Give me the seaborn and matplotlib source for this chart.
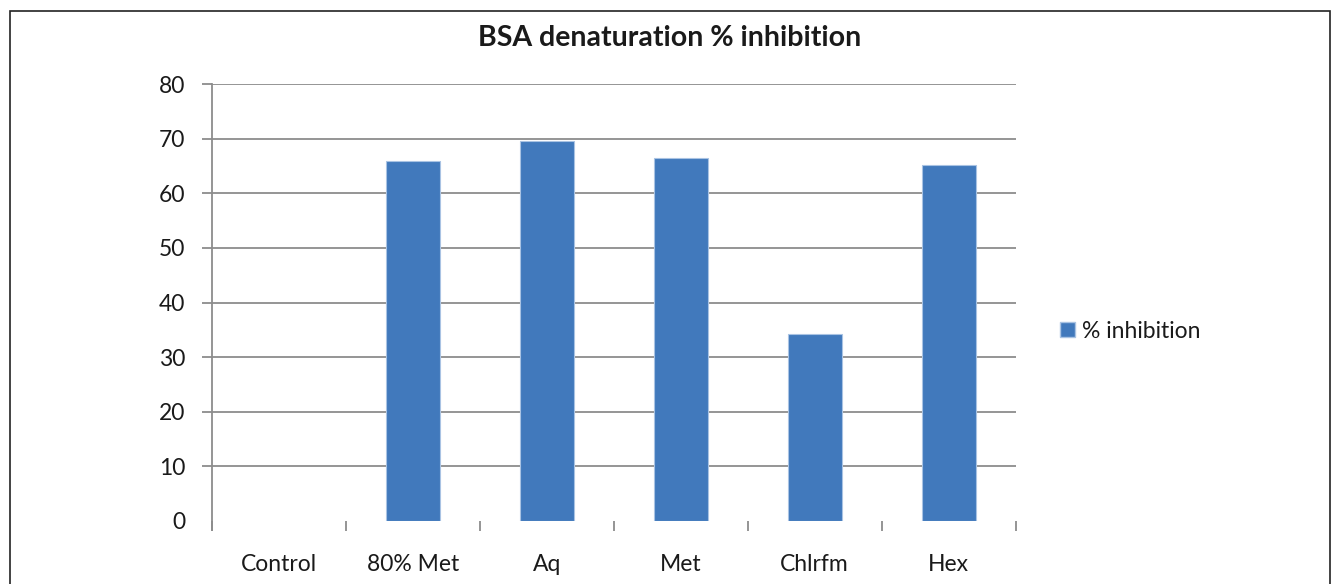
# BSA denaturation % inhibition - bar chart recreated with seaborn.

import matplotlib
matplotlib.use('Agg')
import matplotlib.pyplot as plt
from matplotlib.patches import Rectangle, Patch
from matplotlib.ticker import FixedLocator
import seaborn as sns
import pandas as pd

# Data.
categories = ['Control', '80% Met', 'Aq', 'Met', 'Chlrfm', 'Hex']
inhibition = [0, 65.9, 69.6, 66.5, 34.3, 65.2]
y_ticks = [0, 10, 20, 30, 40, 50, 60, 70, 80]
series_name = '% inhibition'
title = 'BSA denaturation % inhibition'

df = pd.DataFrame({'extract': categories, 'value': inhibition})

sns.set_style('white')
plt.rcParams['font.family'] = ['Lato', 'DejaVu Sans']

bar_color = '#4179bc'
edge_color = '#a9c3e3'
text_color = '#1a1a1a'
grid_color = '#8c8c8c'

figure = plt.figure(figsize=(13.4, 5.84), dpi=100)
axes = figure.add_axes([0.158, 0.108, 0.6, 0.748])

sns.barplot(data=df, x='extract', y='value', color=bar_color, width=0.4,
            saturation=1, edgecolor=edge_color, linewidth=0.8, ax=axes)
# A bar of height zero should leave no trace.
for bar in axes.patches:
    if bar.get_height() == 0:
        bar.set_linewidth(0)

# Axis limits and ticks.
axes.set_xlim(-0.5, len(categories) - 0.5)
axes.set_ylim(0, 80)
# Zero gets a label but no mark and no gridline, so it is a minor tick.
axes.set_yticks(y_ticks[1:])
axes.set_yticks(y_ticks[:1], labels=[str(y_ticks[0])], minor=True)
axes.set_xlabel('')
axes.set_ylabel('')

# Horizontal gridlines.
axes.yaxis.grid(True, which='major', color=grid_color, linewidth=1.3)
axes.set_axisbelow(True)

# Spines: only the left axis line.
for side in ['top', 'right', 'bottom']:
    axes.spines[side].set_visible(False)
axes.spines['left'].set_color(grid_color)
axes.spines['left'].set_linewidth(1.3)
axes.spines['left'].set_bounds(-1.7, 80)

axes.tick_params(axis='y', which='major', direction='out', length=7,
                 width=1.3, color=grid_color, labelsize=16.5,
                 labelcolor=text_color, pad=12, left=True)
axes.tick_params(axis='y', which='minor', length=0, labelsize=16.5,
                 labelcolor=text_color, pad=19, left=True)
# Category labels without marks, small marks between categories.
axes.tick_params(axis='x', which='major', length=0, labelsize=16.5,
                 labelcolor=text_color, pad=24)
axes.xaxis.set_minor_locator(FixedLocator(
    [i - 0.5 for i in range(len(categories) + 1)]))
axes.tick_params(axis='x', which='minor', direction='out', length=7,
                 width=1.3, color=grid_color, bottom=True)

# Title centred on the figure.
figure.text(0.5, 0.935, title, ha='center', va='center', fontsize=20.5,
            fontweight='bold', color=text_color)

# Legend on the right.
handle = Patch(facecolor=bar_color, edgecolor=edge_color, label=series_name)
figure.legend(handles=[handle], loc='center left',
              bbox_to_anchor=(0.776, 0.433), frameon=False, fontsize=16.5,
              handlelength=0.65, handleheight=0.65, handletextpad=0.3,
              labelcolor=text_color)

# Outer border of the chart area.
figure.patches.append(Rectangle((0.0075, -0.05), 0.985, 1.031,
                                transform=figure.transFigure, fill=False,
                                edgecolor='#222222', linewidth=1.2))

plt.savefig('out.png', dpi=100)
